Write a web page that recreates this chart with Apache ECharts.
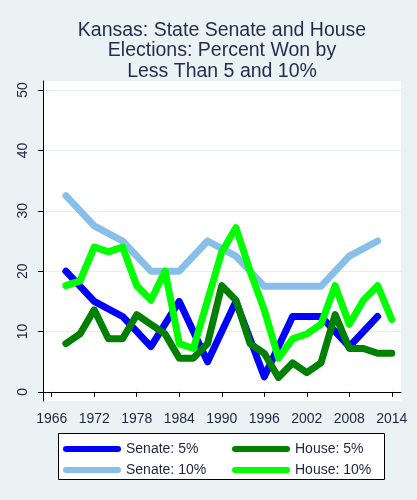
<!DOCTYPE html>
<html>
<head>
<meta charset="utf-8">
<script src="https://cdn.jsdelivr.net/npm/echarts@6/dist/echarts.min.js"></script>
<style>
  html, body { margin: 0; padding: 0; background: #eaf2f3; }
  #main { width: 417px; height: 500px; }
</style>
</head>
<body>
<div id="main"></div>
<script>
// senate elected every 4 years, house every 2
const senateYears = [1968, 1972, 1976, 1980, 1984, 1988, 1992, 1996, 2000, 2004, 2008, 2012];
const senate5 = [20, 15, 12.5, 7.5, 15, 5, 15, 2.5, 12.5, 12.5, 7.5, 12.5];
const senate10 = [32.5, 27.5, 25, 20, 20, 25, 22.5, 17.5, 17.5, 17.5, 22.5, 25];

const houseYears = [1968, 1970, 1972, 1974, 1976, 1978, 1980, 1982, 1984, 1986, 1988, 1990,
                    1992, 1994, 1996, 1998, 2000, 2002, 2004, 2006, 2008, 2010, 2012, 2014];
const house5 = [8, 9.6, 13.6, 8.8, 8.8, 12.8, 11.2, 9.6, 5.6, 5.6, 8, 17.6,
                15.2, 8, 6.4, 2.4, 4.8, 3.2, 4.8, 12.8, 7.2, 7.2, 6.4, 6.4];
const house10 = [17.6, 18.4, 24, 23.2, 24, 17.6, 15.2, 20, 8, 7.2, 15.2, 23.2,
                 27.2, 20, 13.6, 5.6, 8.8, 9.6, 11.2, 17.6, 11.2, 15.2, 17.6, 12];

const xTicks = [1966, 1972, 1978, 1984, 1990, 1996, 2002, 2008, 2014];
const yTicks = [0, 10, 20, 30, 40, 50];

const seriesNames = ['Senate: 5%', 'Senate: 10%', 'House: 5%', 'House: 10%'];
const seriesColors = ['#0000ff', '#87bfe8', '#008000', '#00ff00'];

const font = 'Liberation Sans, Arial, sans-serif';
const ink = '#1c2640';

function pairs(xs, ys) {
    let out = [];
    for (let i = 0; i < xs.length; i++) {
        out.push([xs[i], ys[i]]);
    }
    return out;
}

function lineSeries(idx, xs, ys) {
    return {
        name: seriesNames[idx],
        type: 'line',
        data: pairs(xs, ys),
        showSymbol: false,
        symbol: 'none',
        animation: false,
        color: seriesColors[idx],
        lineStyle: { width: 7, color: seriesColors[idx], cap: 'round', join: 'round' }
    };
}

const capsule = 'path://M3,0 L55,0 A3,3 0 0 1 55,6 L3,6 A3,3 0 0 1 3,0 Z';

// one legend per entry so each row sits exactly where it should
function legendItem(left, top, name) {
    return {
        left: left,
        top: top,
        padding: 0,
        itemWidth: 58,
        itemHeight: 6,
        icon: capsule,
        data: [name],
        selectedMode: false,
        textStyle: { fontFamily: font, fontSize: 14, color: ink, lineHeight: 16 }
    };
}

let chart = echarts.init(document.getElementById('main'));
chart.setOption({
    backgroundColor: '#eaf2f3',
    animation: false,
    title: {
        text: 'Kansas: State Senate and House\nElections: Percent Won by\nLess Than 5 and 10%',
        left: 222,
        top: 20,
        padding: 0,
        textAlign: 'center',
        textStyle: { fontFamily: font, fontSize: 19.5, fontWeight: 'normal', color: '#1e2c4e', lineHeight: 20.5 }
    },
    legend: [
        legendItem(63, 441, 'Senate: 5%'),
        legendItem(63, 462, 'Senate: 10%'),
        legendItem(232, 441, 'House: 5%'),
        legendItem(232, 462, 'House: 10%')
    ],
    graphic: [{
        type: 'rect',
        z: 0,
        shape: { x: 58.5, y: 433.5, width: 326, height: 46 },
        style: { fill: '#fff', stroke: '#000', lineWidth: 1 }
    }],
    grid: {
        left: 43, top: 81, right: 16, bottom: 99,
        show: true, backgroundColor: '#fff', borderWidth: 0
    },
    xAxis: {
        type: 'value',
        min: 1964.77,
        max: 2015.3,
        axisLine: { show: true, lineStyle: { color: '#000', width: 1 } },
        axisTick: { show: true, length: 5, customValues: xTicks, lineStyle: { color: '#000' } },
        axisLabel: {
            customValues: xTicks, margin: 11, fontFamily: font, fontSize: 14, color: ink,
            formatter: function (v) { return String(v); }
        },
        splitLine: { show: false }
    },
    yAxis: {
        type: 'value',
        min: -1.5,
        max: 51.5,
        axisLine: { show: true, lineStyle: { color: '#000', width: 1 } },
        axisTick: { show: true, length: 5, customValues: yTicks, lineStyle: { color: '#000' } },
        axisLabel: { customValues: yTicks, rotate: 90, margin: 13, fontFamily: font, fontSize: 14, color: ink },
        splitLine: { show: true, lineStyle: { color: '#e4edf0', width: 1 } }
    },
    series: [
        lineSeries(0, senateYears, senate5),
        lineSeries(1, senateYears, senate10),
        lineSeries(2, houseYears, house5),
        lineSeries(3, houseYears, house10)
    ]
});
</script>
</body>
</html>
